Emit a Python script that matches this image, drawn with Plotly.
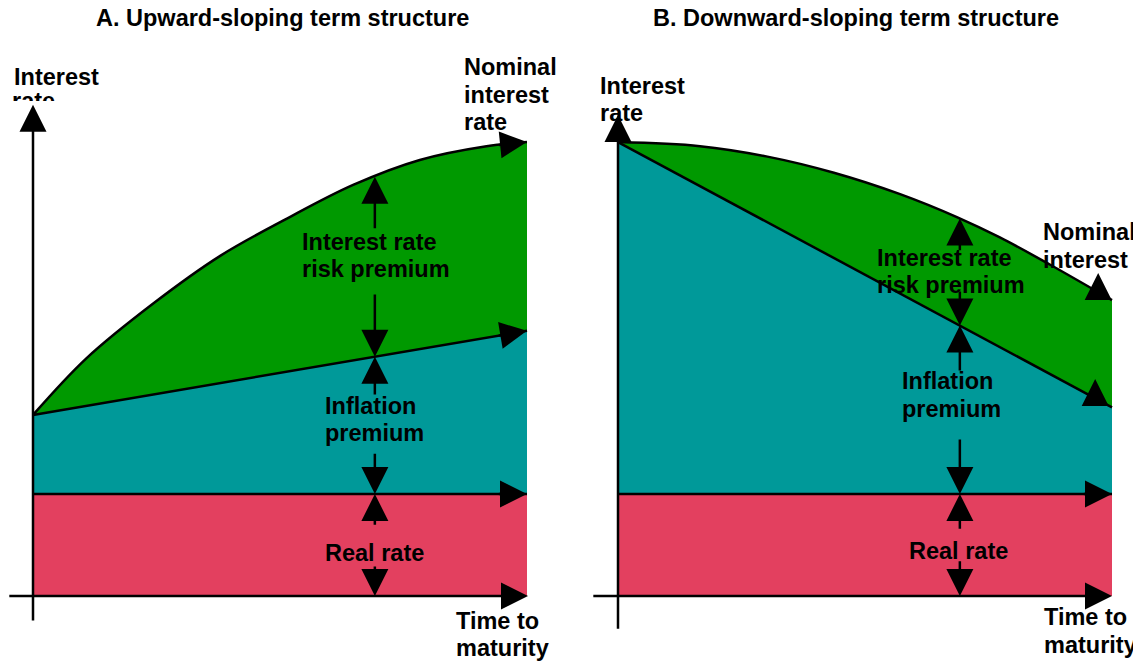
import numpy as np
import plotly.graph_objects as go

# panel A: upward-sloping term structure (t = time to maturity, values = rate level)
t_nom_a = [0, 1.08, 2.44, 3.79, 5.14, 6.48, 7.83, 9.18, 10]
nominal_a = [3.55, 4.66, 5.74, 6.67, 7.40, 8.06, 8.55, 8.82, 8.9]
t_infl_a = [0, 10]
inflation_a = [3.55, 5.2]

# panel B: downward-sloping term structure
t_nom_b = [0, 1.66, 3.0, 4.37, 5.71, 6.86, 7.73, 8.74, 10]
nominal_b = [8.9, 8.82, 8.62, 8.3, 7.88, 7.43, 7.03, 6.5, 5.8]
t_infl_b = [0, 10]
inflation_b = [8.9, 3.7]

t_real = [0, 10]
real_rate = [2.0, 2.0]

t_premium = 6.92  # maturity where the premium arrows sit

RED = '#E3405F'
TEAL = '#009999'
GREEN = '#009900'
FONT = dict(family='Liberation Sans, Arial, sans-serif', size=23.5, color='black', weight='bold')

# geometry in page pixels; the page body adds an 8px margin round the figure
OFF = 8
W, H = 1141 - OFF, 661 - OFF
PX_T, PX_R = 49.4, 51.0
ORIGIN_A, ORIGIN_B, BASE_Y = 33 - OFF, 618 - OFF, 596 - OFF
SPLIT = 570 - OFF

fig = go.Figure()


def add_panel(xa, ya, t_nom, nom, t_inf, inf):
    fig.add_trace(go.Scatter(x=t_real, y=real_rate, mode='lines', fill='tozeroy', fillcolor=RED,
                             line=dict(color='black', width=2.5), xaxis=xa, yaxis=ya, hoverinfo='skip'))
    fig.add_trace(go.Scatter(x=t_inf, y=inf, mode='lines', fill='tonexty', fillcolor=TEAL,
                             line=dict(color='black', width=2.5), xaxis=xa, yaxis=ya, hoverinfo='skip'))
    fig.add_trace(go.Scatter(x=t_nom, y=nom, mode='lines', fill='tonexty', fillcolor=GREEN,
                             line=dict(color='black', width=2.5, shape='spline', smoothing=1),
                             xaxis=xa, yaxis=ya, hoverinfo='skip'))


add_panel('x', 'y', t_nom_a, nominal_a, t_infl_a, inflation_a)
add_panel('x2', 'y2', t_nom_b, nominal_b, t_infl_b, inflation_b)

# y-axis label of panel A is partly hidden in the original
fig.add_trace(go.Scatter(x=[-0.425], y=[9.67], mode='text', text=['rate'], textposition='middle right',
                         textfont=dict(family=FONT['family'], size=FONT['size'], color='black', weight='bold'),
                         xaxis='x', yaxis='y', hoverinfo='skip'))

annotations = []


def arrow(xr, yr, x0, y0, x1, y1, size=2.16):
    annotations.append(dict(x=x1, y=y1, ax=x0, ay=y0, xref=xr, yref=yr, axref=xr, ayref=yr,
                            showarrow=True, arrowhead=2, arrowsize=size, arrowwidth=2.5,
                            arrowcolor='black', text=''))


def label(xr, yr, x, y, txt):
    annotations.append(dict(x=x, y=y, xref=xr, yref=yr, text=txt, showarrow=False,
                            xanchor='left', yanchor='middle', font=FONT))


def interp(t, ts, vs):
    return float(np.interp(t, ts, vs))


# titles
for cx, txt in [(282, 'A. Upward-sloping term structure'), (856, 'B. Downward-sloping term structure')]:
    annotations.append(dict(x=(cx - OFF) / W, y=1 - (18 - OFF) / H, xref='paper', yref='paper',
                            xanchor='center', yanchor='middle', showarrow=False, text=txt, font=FONT))

# panel A labels
for x, y, txt in [(-0.425, 10.18, 'Interest'),
                  (8.68, 10.37, 'Nominal'), (8.68, 9.82, 'interest'), (8.68, 9.29, 'rate'),
                  (5.40, 6.94, 'Interest rate'), (5.40, 6.41, 'risk premium'),
                  (5.87, 3.73, 'Inflation'), (5.87, 3.20, 'premium'),
                  (5.87, 0.84, 'Real rate'),
                  (8.52, -0.49, 'Time to'), (8.52, -1.02, 'maturity')]:
    label('x', 'y', x, y, txt)

# panel B labels
for x, y, txt in [(-0.40, 10.0, 'Interest'), (-0.40, 9.47, 'rate'),
                  (8.56, 7.14, 'Nominal'), (8.56, 6.59, 'interest'),
                  (5.20, 6.63, 'Interest rate'), (5.20, 6.10, 'risk premium'),
                  (5.71, 4.22, 'Inflation'), (5.71, 3.67, 'premium'),
                  (5.85, 0.88, 'Real rate'),
                  (8.58, -0.41, 'Time to'), (8.58, -0.96, 'maturity')]:
    label('x2', 'y2', x, y, txt)

# axes
arrow('x', 'y', 0, -0.51, 0, 9.63)
arrow('x', 'y', -0.51, 0, 10.02, 0)
arrow('x2', 'y2', 0, -0.67, 0, 9.43)
arrow('x2', 'y2', -0.53, 0, 10.0, 0)

# curve ends, panel A
arrow('x', 'y', 9.4, interp(9.4, t_nom_a, nominal_a), 10, nominal_a[-1])
arrow('x', 'y', 9.4, interp(9.4, t_infl_a, inflation_a), 10, inflation_a[-1])
arrow('x', 'y', 9.4, real_rate[-1], 10, real_rate[-1])
# curve ends, panel B
arrow('x2', 'y2', 9.4, real_rate[-1], 10, real_rate[-1])
for tt, ts, vs in [(9.72, t_nom_b, nominal_b), (9.66, t_infl_b, inflation_b)]:
    annotations.append(dict(x=tt, y=interp(tt, ts, vs) + 0.38, xref='x2', yref='y2', ax=0, ay=18,
                            showarrow=True, arrowhead=2, arrowsize=2.16, arrowwidth=2.5,
                            arrowcolor='black', text=''))

# premium arrows: (tail of upper arrow, tail of lower arrow) for each band
gaps_a = [(7.18, 5.94), (3.92, 2.82), (1.37, 0.61)]
gaps_b = [(6.75, 6.0), (4.39, 3.10), (1.29, 0.71)]
for xr, yr, t_nom, nom, t_inf, inf, gaps in [('x', 'y', t_nom_a, nominal_a, t_infl_a, inflation_a, gaps_a),
                                              ('x2', 'y2', t_nom_b, nominal_b, t_infl_b, inflation_b, gaps_b)]:
    levels = [interp(t_premium, t_nom, nom), interp(t_premium, t_inf, inf), real_rate[0], 0]
    for i, (up, down) in enumerate(gaps):
        arrow(xr, yr, t_premium, up, t_premium, levels[i])
        arrow(xr, yr, t_premium, down, t_premium, levels[i + 1])

shapes = [dict(type='rect', xref='paper', yref='paper', x0=0, x1=0.09,
               y0=1 - (114 - OFF) / H, y1=1 - (101 - OFF) / H,
               fillcolor='white', line=dict(width=0), layer='above')]

y_range = [(BASE_Y - H) / PX_R, BASE_Y / PX_R]
fig.update_layout(
    width=W, height=H, margin=dict(l=0, r=0, t=0, b=0),
    paper_bgcolor='white', plot_bgcolor='white', showlegend=False,
    xaxis=dict(domain=[0, SPLIT / W], range=[-ORIGIN_A / PX_T, (SPLIT - ORIGIN_A) / PX_T], visible=False),
    xaxis2=dict(domain=[SPLIT / W, 1], range=[(SPLIT - ORIGIN_B) / PX_T, (W - ORIGIN_B) / PX_T], visible=False),
    yaxis=dict(domain=[0, 1], range=y_range, visible=False),
    yaxis2=dict(domain=[0, 1], range=y_range, visible=False, anchor='x2'),
    annotations=annotations, shapes=shapes,
)

fig.write_html("out.html")
